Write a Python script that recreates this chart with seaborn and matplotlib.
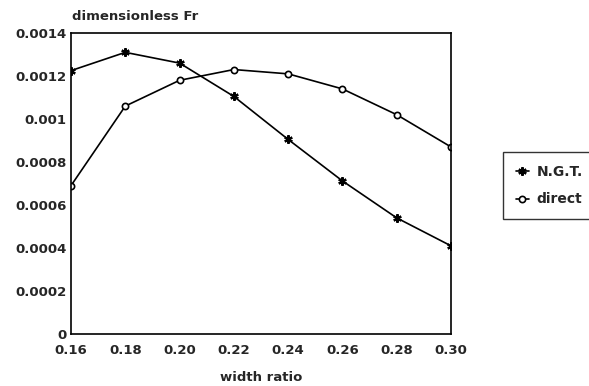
import matplotlib
matplotlib.use("Agg")
import matplotlib.pyplot as plt
import seaborn as sns
import pandas as pd

width_ratio = [0.16, 0.18, 0.20, 0.22, 0.24, 0.26, 0.28, 0.30]
ngt = [0.001225, 0.00131, 0.00126, 0.001105, 0.000905, 0.000712, 0.00054, 0.00041]
direct = [0.00069, 0.00106, 0.00118, 0.00123, 0.00121, 0.00114, 0.00102, 0.00087]
series_names = ["N.G.T.", "direct"]
x_ticks = [0.16, 0.18, 0.20, 0.22, 0.24, 0.26, 0.28, 0.30]
x_ticklabels = ["0.16", "0.18", "0.20", "0.22", "0.24", "0.26", "0.28", "0.30"]
y_ticks = [0, 0.0002, 0.0004, 0.0006, 0.0008, 0.001, 0.0012, 0.0014]
y_ticklabels = ["0", "0.0002", "0.0004", "0.0006", "0.0008", "0.001", "0.0012", "0.0014"]

df_ngt = pd.DataFrame({"width ratio": width_ratio, "Fr": ngt})
df_direct = pd.DataFrame({"width ratio": width_ratio, "Fr": direct})

sns.set_theme(style="white")
plt.rcParams["font.family"] = ["DejaVu Sans"]
plt.rcParams["font.weight"] = "bold"

fig = plt.figure(figsize=(5.89, 3.86), dpi=100)
ax = fig.add_axes([71 / 589, 52 / 386, 380 / 589, 301 / 386])

sns.lineplot(data=df_ngt, x="width ratio", y="Fr", color="black", marker=(6, 2, 0),
             markersize=6, markeredgecolor="black", markerfacecolor="black",
             markeredgewidth=1.6, linewidth=1.2, ax=ax, label=series_names[0])
sns.lineplot(data=df_direct, x="width ratio", y="Fr", color="black", marker="o",
             markersize=4.5, markeredgecolor="black", markerfacecolor="white",
             markeredgewidth=1.2, linewidth=1.2, ax=ax, label=series_names[1])

ax.set_xlim(0.16, 0.30)
ax.set_ylim(0, 0.0014)
ax.set_xticks(x_ticks)
ax.set_xticklabels(x_ticklabels, fontsize=9.5, fontweight="bold")
ax.set_yticks(y_ticks)
ax.set_yticklabels(y_ticklabels, fontsize=9.5, fontweight="bold")
ax.tick_params(axis="y", length=0, pad=3)
ax.tick_params(axis="x", length=0, pad=7)
for s in ax.spines.values():
    s.set_color("black")
    s.set_linewidth(1.2)

ax.set_xlabel("width ratio", fontsize=9.5, fontweight="bold", labelpad=10)
ax.set_ylabel("")
fig.text(72 / 589, 1 - 16 / 386, "dimensionless Fr", fontsize=9.5, fontweight="bold",
         ha="left", va="center")

leg = ax.legend(loc="upper left", bbox_to_anchor=(503 / 589, 1 - 152 / 386),
                bbox_transform=fig.transFigure,
                frameon=True, fancybox=False, edgecolor="black",
                prop={"size": 10, "weight": "bold"}, handlelength=1.0,
                handletextpad=0.5, borderpad=0.9, labelspacing=1.0,
                borderaxespad=0)
leg.get_frame().set_linewidth(1.0)

fig.savefig("out.png", dpi=100)
